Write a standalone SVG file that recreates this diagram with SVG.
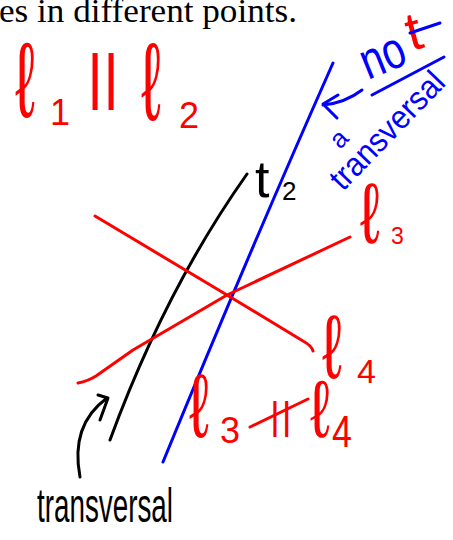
<svg xmlns="http://www.w3.org/2000/svg" width="453" height="540" viewBox="0 0 453 540">
<style>
.ln{fill:none;stroke-width:3;stroke-linecap:round;stroke-linejoin:round}
.r{stroke:#ff0000}.b{stroke:#0000ff}.k{stroke:#000}
.tr{fill:#ff0000}.tb{fill:#0000ff}.tk{fill:#000}
.s{font-family:"Liberation Sans",Arial,"DejaVu Sans",sans-serif}
.ell{font-family:"Liberation Sans",Arial,"DejaVu Sans",sans-serif;font-size:62px;fill:#ff0000}
</style>
<rect width="453" height="540" fill="#fff"/>
<text x="-1" y="22" font-family="Liberation Serif,serif" font-size="33" textLength="298" lengthAdjust="spacingAndGlyphs" fill="#000">es in different points.</text>

<g id="connectors">
  <path id="t1-blue" class="ln b" d="M333,63 Q250,250 163,462"/>
  <path id="t2-black" class="ln k" d="M247,174 Q165,290 110,440"/>
  <path id="l4-line" class="ln r" d="M95,216 L227,295 L303,341 Q312,346 313,351"/>
  <path id="l3-line" class="ln r" d="M350,237 L227,295 L133,350 L96,376 Q88,381 78,383"/>
  <path id="blue-arrow" class="ln b" d="M362,90 Q345,103 323,105 M338,95 L323,104 L337,118"/>
  <path id="black-arrow" class="ln k" d="M80,477 Q70,425 107,398 M98,395 L108,398 L100,420"/>
</g>

<g id="l1-parallel-l2">
  <text class="ell" transform="translate(15,117) scale(1,1.72)">ℓ</text>
  <text class="s tr" x="50" y="125" font-size="36">1</text>
  <text class="s tr" x="87" y="97" font-size="62">||</text>
  <text class="ell" transform="translate(141,120) scale(1,1.78)">ℓ</text>
  <text class="s tr" x="179" y="128" font-size="36">2</text>
</g>

<g id="not-a-transversal">
  <text class="s tb" font-size="52" textLength="45" lengthAdjust="spacingAndGlyphs" transform="translate(368,80) rotate(-22)">no</text>
  <text class="s tr" font-size="54" transform="translate(411,51) rotate(-15)">t</text>
  <path class="ln b" d="M410,33 L440,23"/>
  <path class="ln b" d="M372,95 L444,57"/>
  <text class="s tb" font-size="26" transform="translate(340,150) rotate(-46)">a</text>
  <text class="s tb" font-size="33" text-anchor="middle" textLength="150" lengthAdjust="spacingAndGlyphs" transform="translate(395,138) rotate(-46)">transversal</text>
</g>

<g id="t2-label">
  <text class="s tk" x="255" y="197" font-size="52">t</text>
  <text class="s tk" x="282" y="200" font-size="26">2</text>
</g>

<g id="l3-label">
  <text class="ell" transform="translate(360,243) scale(1,1.38)">ℓ</text>
  <text class="s tr" x="391" y="244" font-size="23">3</text>
</g>

<g id="l4-label">
  <text class="ell" transform="translate(322,378) scale(1,1.45)">ℓ</text>
  <text class="s tr" x="357" y="383" font-size="34">4</text>
</g>

<g id="l3-notparallel-l4">
  <text class="ell" transform="translate(189,437) scale(1,1.45)">ℓ</text>
  <text class="s tr" x="220" y="443" font-size="36">3</text>
  <text class="s tr" x="270" y="429" font-size="38" letter-spacing="2">||</text>
  <path class="ln r" d="M250,427 L308,399"/>
  <text class="ell" transform="translate(310,437) scale(1,1.3)">ℓ</text>
  <text class="s tr" x="332" y="447" font-size="44" textLength="20" lengthAdjust="spacingAndGlyphs">4</text>
</g>

<g id="transversal-label">
  <text class="s tk" x="37" y="522" font-size="48" textLength="136" lengthAdjust="spacingAndGlyphs">transversal</text>
</g>
</svg>
